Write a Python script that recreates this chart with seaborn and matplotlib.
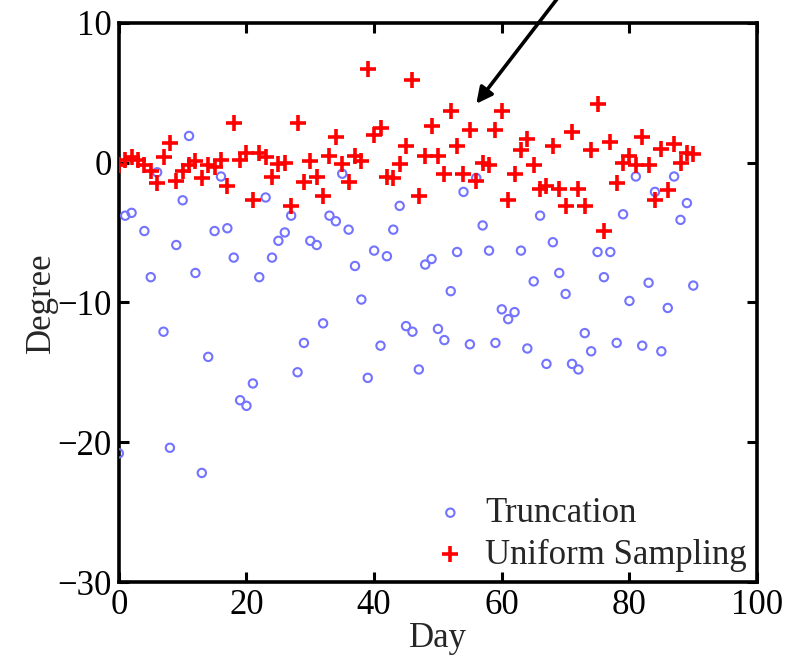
import matplotlib
matplotlib.use("Agg")
import matplotlib.pyplot as plt
import seaborn as sns
import pandas as pd

# Truncation (blue open circles)
trunc_day = [0, 1, 2, 4, 5, 6, 7, 8, 9, 10, 11, 12, 13, 14, 15, 16, 17, 18, 19, 20,
             21, 22, 23, 24, 25, 26, 27, 28, 29, 30, 31, 32, 33, 34, 35, 36, 37, 38, 39, 40,
             41, 42, 43, 44, 45, 46, 47, 48, 49, 50, 51, 52, 53, 54, 55, 56, 57, 58, 59, 60,
             61, 62, 63, 64, 65, 66, 67, 68, 69, 70, 71, 72, 73, 74, 75, 76, 77, 78, 79, 80,
             81, 82, 83, 84, 85, 86, 87, 88, 89, 90]
trunc_val = [-20.8, -3.8, -3.6, -4.9, -8.2, -0.7, -12.1, -20.4, -5.9, -2.7, 1.9, -7.9, -22.2, -13.9, -4.9, -1.0, -4.7, -6.8, -17.0, -17.4,
             -15.8, -8.2, -2.5, -6.8, -5.6, -5.0, -3.8, -15.0, -12.9, -5.6, -5.9, -11.5, -3.8, -4.2, -0.8, -4.8, -7.4, -9.8, -15.4, -6.3,
             -13.1, -6.7, -4.8, -3.1, -11.7, -12.1, -14.8, -7.3, -6.9, -11.9, -12.7, -9.2, -6.4, -2.1, -13.0, -1.1, -4.5, -6.3, -12.9, -10.5,
             -11.2, -10.7, -6.3, -13.3, -8.5, -3.8, -14.4, -5.7, -7.9, -9.4, -14.4, -14.8, -12.2, -13.5, -6.4, -8.2, -6.4, -12.9, -3.7, -9.9,
             -1.0, -13.1, -8.6, -2.1, -13.5, -10.4, -1.0, -4.1, -2.9, -8.8]

# Uniform Sampling (red plus)
unif_day = list(range(0, 91))
unif_val = [-0.2, 0.2, 0.4, 0.2, -0.2, -0.6, -1.5, 0.4, 1.4, -1.3,
            -0.6, -0.2, 0.1, -1.1, -0.2, -0.3, 0.2, -1.7, 2.8, 0.2,
            0.7, -2.7, 0.7, 0.4, -1.0, -0.1, 0.0, -3.1, 2.8, -1.4,
            0.1, -1.0, -2.4, 0.5, 1.8, -0.1, -1.4, 0.5, 0.1, 6.7,
            2.0, 2.5, -1.0, -1.1, -0.1, 1.2, 5.9, -2.4, 0.5, 2.6,
            0.5, -0.8, 3.7, 1.2, -0.8, 2.3, -1.3, 0.0, -0.2, 2.3,
            3.7, -2.7, -0.8, 0.9, 1.7, -0.2, -1.9, -1.7, 1.2, -1.9,
            -3.1, 2.2, -1.9, -3.1, 0.9, 4.2, -4.9, 1.45, -1.5, 0.0,
            0.5, -0.2, 1.8, -0.2, -2.7, 1.0, -2.0, 1.3, 0.0, 0.7, 0.6]

x_ticks = [0, 20, 40, 60, 80, 100]
y_ticks = [-30, -20, -10, 0, 10]

df_t = pd.DataFrame({"Day": trunc_day, "Degree": trunc_val})
df_u = pd.DataFrame({"Day": unif_day, "Degree": unif_val})

sns.set_style("ticks")
plt.rcParams["font.family"] = ["Liberation Serif", "DejaVu Serif"]

fig = plt.figure(figsize=(7.87, 6.58), dpi=100)
ax = fig.add_axes([0.151, 0.1155, 0.811, 0.85])

sns.scatterplot(data=df_t, x="Day", y="Degree", ax=ax, marker="o", s=36,
                facecolor="none", edgecolor="#7373ff", linewidth=1.5,
                label="Truncation", zorder=3)
sns.scatterplot(data=df_u, x="Day", y="Degree", ax=ax, marker="+", s=120,
                color="#ff0000", linewidth=2.6, label="Uniform Sampling", zorder=4)

ax.set_xlim(0, 100)
ax.set_ylim(-30, 10)
ax.set_xticks(x_ticks)
ax.set_yticks(y_ticks)
ax.tick_params(direction="in", length=7, width=2.2, top=True, right=True,
               labelsize=25, pad=5, colors="black")
for sp in ax.spines.values():
    sp.set_linewidth(2.6)
    sp.set_color("black")
    sp.set_visible(True)

ax.set_xlabel("Day", fontsize=25, labelpad=0)
ax.set_ylabel("Degree", fontsize=25, labelpad=0)

leg = ax.legend(loc="lower right", frameon=False, fontsize=25,
                handletextpad=0.3, borderaxespad=0.0, labelspacing=0.25,
                handlelength=1.4, borderpad=0.3)

ax.annotate("", xy=(56.0, 4.2), xytext=(69.5, 12.2), xycoords="data",
            textcoords="data",
            arrowprops=dict(arrowstyle="-|>", color="black", lw=2.6,
                            mutation_scale=24, shrinkA=0, shrinkB=0),
            annotation_clip=False)

fig.savefig("out.png", dpi=100)
